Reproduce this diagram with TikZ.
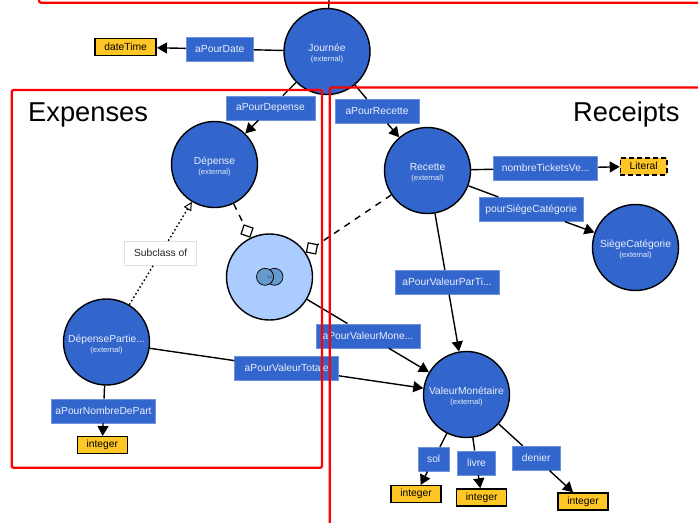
\documentclass[tikz,border=0pt]{standalone}
\usepackage{fontspec}
\setmainfont{Liberation Sans}
\usetikzlibrary{arrows.meta}
\definecolor{cblue}{HTML}{3366CC}
\definecolor{cedge}{HTML}{6F92DC}
\definecolor{clight}{HTML}{AACCFF}
\definecolor{cyel}{HTML}{FFC726}
\definecolor{cicon}{HTML}{6699CC}
\definecolor{ctext}{HTML}{E8EEFA}
\tikzset{
  cls/.style={circle,draw=black,fill=cblue,line width=1.4pt,minimum size=86pt,inner sep=0pt},
  clstext/.style={label={[text=ctext,align=center,inner sep=0pt,yshift=-2.2pt]center:{\fontsize{10.3}{11}\selectfont #1\\[-1.6pt]\fontsize{7.6}{9}\selectfont (external)}}},
  lbl/.style={rectangle,fill=cblue,draw=cedge,line width=.6pt,text=ctext,inner sep=0pt,minimum height=24pt,font=\fontsize{10.3}{12}\selectfont},
  lit/.style={rectangle,fill=cyel,draw=black,line width=1.5pt,inner sep=0pt,minimum width=50pt,minimum height=17pt,text=black,font=\fontsize{10.3}{12}\selectfont},
  note/.style={rectangle,fill=white,draw=black!12,line width=.5pt,inner sep=0pt,minimum width=72pt,minimum height=24.5pt,text=black!85,font=\fontsize{10.3}{12}\selectfont},
  conn/.style={draw=black,line width=1.4pt},
  arr/.style={conn,-{Triangle[length=10pt,width=11pt]}},
  sub/.style={conn,dash pattern=on 1.6pt off 2.4pt},
  subarr/.style={sub,-{Triangle[open,fill=white,length=8.5pt,width=8.5pt,line width=1pt]}},
  dsh/.style={conn,dash pattern=on 6.5pt off 6pt,-{Diamond[open,fill=white,length=15pt,width=15pt,line width=1.2pt]}},
  frame/.style={draw=red,line width=2.2pt,rounded corners=2pt},
  heading/.style={text=black,inner sep=0pt,font=\fontsize{27.3}{30}\selectfont},
  venn/.style={circle,draw=black,line width=.7pt,fill=cicon,minimum size=17pt,inner sep=0pt}
}
\begin{document}
\begin{tikzpicture}[x=1pt,y=-1pt]
\clip (0,0) rectangle (698,522);
% classes
\node[cls,clstext={Journée}] (journee) at (327,51.5) {};
\node[cls,clstext={Dépense}] (depense) at (214.5,164.5) {};
\node[cls,clstext={Recette}] (recette) at (427.5,170.5) {};
\node[cls,clstext={SiègeCatégorie}] (siege) at (635.5,247.5) {};
\node[cls,clstext={DépensePartie...}] (partie) at (106.5,342) {};
\node[cls,clstext={ValeurMonétaire}] (valeur) at (466.5,394.5) {};
\node[cls,fill=clight] (union) at (269.5,277) {};
\node[venn] (vennb) at (274.5,276.8) {};
\node[venn] (venna) at (265,276.8) {};
\begin{scope}
  \clip (274.5,276.8) circle (8.5);
  \node[venn] (vennc) at (265,276.8) {};
\end{scope}
\node[inner sep=0pt,text=black] (cupsign) at (269.7,277.4) {$\scriptscriptstyle\cup$};
% property labels
\node[lbl,minimum width=67.5pt] (pdate) at (219.8,49) {aPourDate};
\node[lbl,minimum width=89pt] (pdep) at (270.5,108) {aPourDepense};
\node[lbl,minimum width=84pt] (prec) at (377,111.3) {aPourRecette};
\node[lbl,minimum width=104pt] (pnomb) at (545.7,168.3) {nombreTicketsVe...};
\node[lbl,minimum width=103.3pt] (ppour) at (531.3,209.3) {pourSiègeCatégorie};
\node[lbl,minimum width=104pt] (ppar) at (447,282.3) {aPourValeurParTi...};
\node[lbl,minimum width=104pt] (pmone) at (368,335.8) {aPourValeurMone...};
\node[lbl,minimum width=104pt] (ptot) at (286.7,368.2) {aPourValeurTotale};
\node[lbl,minimum width=104.4pt] (pnpart) at (103.5,411) {aPourNombreDePart};
\node[lbl,minimum width=31.3pt] (psol) at (433.7,459.2) {sol};
\node[lbl,minimum width=37.6pt] (pliv) at (476.5,462.8) {livre};
\node[lbl,minimum width=47.7pt] (pden) at (536.2,458.2) {denier};
\node[note] (subof) at (160.7,253.3) {Subclass of};
% literals
\node[lit,minimum width=61pt] (ldate) at (125.7,47.2) {dateTime};
\node[lit,minimum width=46.5pt,dash pattern=on 5pt off 3pt] (llit) at (643.7,166.3) {Literal};
\node[lit] (lint) at (102.3,445.2) {integer};
\node[lit] (lsol) at (416,494.2) {integer};
\node[lit] (lliv) at (481.7,497.5) {integer};
\node[lit] (lden) at (583,501.5) {integer};
% connectors
\coordinate (topend) at (329,0);
\draw[conn] (journee) -- (topend);
\draw[conn] (journee) -- (pdate);
\draw[arr] (pdate) -- (ldate);
\draw[conn] (journee) -- (pdep);
\draw[arr] (pdep) -- (depense);
\draw[conn] (journee) -- (prec);
\draw[arr] (prec) -- (recette);
\draw[conn] (recette) -- (pnomb);
\draw[arr] (pnomb) -- (llit);
\draw[conn] (recette) -- (ppour);
\draw[arr] (ppour) -- (siege);
\draw[conn] (recette) -- (ppar);
\draw[arr] (ppar) -- (valeur);
\draw[dsh] (depense) -- (union);
\draw[dsh] (recette) -- (union);
\draw[conn] (union) -- (pmone);
\draw[arr] (pmone) -- (valeur);
\draw[conn] (partie) -- (ptot);
\draw[arr] (ptot) -- (valeur);
\draw[conn] (partie) -- (pnpart);
\draw[arr] (pnpart) -- (lint);
\draw[sub] (partie) -- (subof);
\draw[subarr] (subof) -- (depense);
\draw[conn] (valeur) -- (psol);
\draw[arr] (psol) -- (lsol);
\draw[conn] (valeur) -- (pliv);
\draw[arr] (pliv) -- (lliv);
\draw[conn] (valeur) -- (pden);
\draw[arr] (pden) -- (lden);
% frames
\draw[frame] (39,-20) rectangle (720,2.7);
\draw[frame] (329.7,540) -- (329.7,87.4) -- (720,87.4);
\draw[frame] (11.7,90) rectangle (322,467.8);
% headings
\node[heading,anchor=base west] (hexp) at (28,121) {Expenses};
\node[heading,anchor=base west] (hrec) at (573,121) {Receipts};
\end{tikzpicture}
\end{document}
